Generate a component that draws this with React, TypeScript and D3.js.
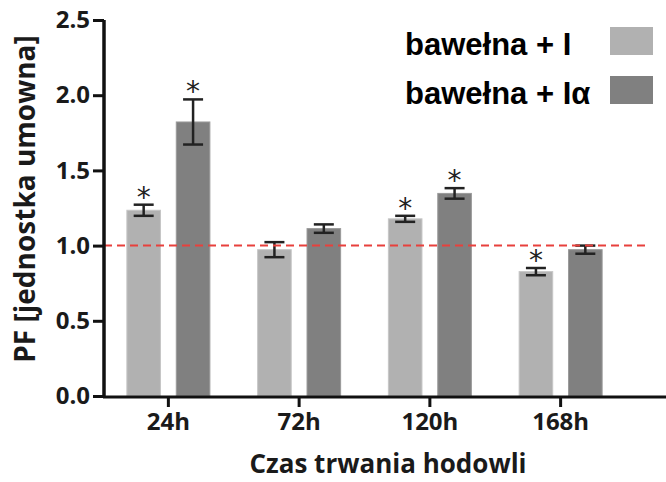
import { useEffect, useRef } from "react";
import * as d3 from "d3";

const groups = ["24h", "72h", "120h", "168h"];
const seriesNames = ["bawełna + I", "bawełna + Iα"];
const valuesI = [1.235, 0.973, 1.178, 0.827];
const valuesIa = [1.822, 1.113, 1.347, 0.973];
const errI = [0.037, 0.05, 0.02, 0.024];
const errIa = [0.15, 0.028, 0.035, 0.027];
const sigI = [true, false, true, true];
const sigIa = [true, false, true, false];
const yTicks = [0, 0.5, 1.0, 1.5, 2.0, 2.5];

const colors = ["#b1b1b1", "#808080"];
const edges = ["#c6c6c6", "#9a9a9a"];

const App = () => {
	const svgRef = useRef<SVGSVGElement>(null);

	useEffect(() => {
		if (!svgRef.current) return;
		const width = 666;
		const height = 482;
		const svg = d3.select(svgRef.current).attr("width", width).attr("height", height);
		svg.selectAll("*").remove();

		const axisFont = "'Open Sans', sans-serif";

		// scales
		const y = d3.scaleLinear().domain([0, 2.5]).range([396, 20]);
		const x0 = d3.scaleBand().domain(groups).range([103, 626]).padding(0);
		const x1 = d3.scaleBand().domain(seriesNames).range([-41.5, 41.5]).paddingInner(0.32);

		const rows = groups.map((g, i) => ({
			group: g,
			bars: [
				{ s: seriesNames[0], v: valuesI[i], e: errI[i], sig: sigI[i], k: 0 },
				{ s: seriesNames[1], v: valuesIa[i], e: errIa[i], sig: sigIa[i], k: 1 },
			],
		}));

		// bars
		const gGroup = svg
			.selectAll(".grp")
			.data(rows)
			.enter()
			.append("g")
			.attr("transform", (d) => `translate(${x0(d.group)! + x0.bandwidth() / 2},0)`);

		gGroup
			.selectAll("rect")
			.data((d) => d.bars)
			.enter()
			.append("rect")
			.attr("x", (d) => x1(d.s)!)
			.attr("width", x1.bandwidth())
			.attr("y", (d) => y(d.v))
			.attr("height", (d) => y(0) - y(d.v))
			.style("fill", (d) => colors[d.k])
			.style("stroke", (d) => edges[d.k])
			.style("stroke-width", 1);

		// error bars
		const eb = gGroup
			.selectAll(".err")
			.data((d) => d.bars)
			.enter()
			.append("g")
			.attr("transform", (d) => `translate(${x1(d.s)! + x1.bandwidth() / 2},0)`);

		eb.append("line")
			.attr("y1", (d) => y(d.v + d.e))
			.attr("y2", (d) => y(d.v - d.e))
			.style("stroke", "#222")
			.style("stroke-width", 2.5);
		[1, -1].forEach((sgn) => {
			eb.append("line")
				.attr("x1", -10)
				.attr("x2", 10)
				.attr("y1", (d) => y(d.v + sgn * d.e))
				.attr("y2", (d) => y(d.v + sgn * d.e))
				.style("stroke", "#222")
				.style("stroke-width", 2.5);
		});

		// significance marks
		eb.filter((d) => d.sig)
			.append("text")
			.attr("text-anchor", "middle")
			.attr("y", (d) => y(d.v + d.e) + 2)
			.style("font-family", "'DejaVu Sans', sans-serif")
			.style("font-size", "28px")
			.style("fill", "#222")
			.text("*");

		// reference line at 1.0
		svg.append("line")
			.attr("x1", 104)
			.attr("x2", 645)
			.attr("y1", y(1))
			.attr("y2", y(1))
			.style("stroke", "#e8403c")
			.style("stroke-width", 2)
			.style("stroke-dasharray", "8,5");

		// y axis
		const yAxis = svg.append("g").attr("transform", "translate(104,0)").call(
			d3
				.axisLeft(y)
				.tickValues(yTicks)
				.tickFormat(d3.format(".1f"))
				.tickSize(11)
				.tickPadding(3)
		);
		yAxis.select(".domain").attr("d", `M0,${y(2.5)}V${y(0) + 1.5}`);
		yAxis.selectAll("line").style("stroke", "#111").style("stroke-width", 3);
		yAxis.select(".domain").style("stroke", "#111").style("stroke-width", 3.5);
		yAxis
			.selectAll("text")
			.style("font-family", axisFont)
			.style("font-weight", 700)
			.style("font-size", "24px")
			.style("fill", "#1a1a1a");

		// x axis
		const xAxis = svg.append("g").attr("transform", `translate(0,${y(0) + 1})`).call(
			d3.axisBottom(x0).tickSize(10).tickPadding(6)
		);
		xAxis.select(".domain").attr("d", `M103,0H666`);
		xAxis.selectAll("line").style("stroke", "#111").style("stroke-width", 3);
		xAxis.select(".domain").style("stroke", "#111").style("stroke-width", 3);
		xAxis
			.selectAll("text")
			.style("font-family", axisFont)
			.style("font-weight", 700)
			.style("font-size", "24px")
			.style("fill", "#1a1a1a");

		// axis titles
		svg.append("text")
			.attr("x", 388)
			.attr("y", 473)
			.attr("text-anchor", "middle")
			.style("font-family", axisFont)
			.style("font-weight", 700)
			.style("font-size", "26px")
			.style("fill", "#1a1a1a")
			.text("Czas trwania hodowli");

		svg.append("text")
			.attr("transform", "translate(35,199) rotate(-90)")
			.attr("text-anchor", "middle")
			.style("font-family", axisFont)
			.style("font-weight", 700)
			.style("font-size", "28px")
			.style("fill", "#1a1a1a")
			.text("PF [jednostka umowna]");

		// legend
		const leg = svg
			.selectAll(".leg")
			.data(seriesNames)
			.enter()
			.append("g")
			.attr("transform", (_d, i) => `translate(0,${i * 49})`);
		leg.append("text")
			.attr("x", 405)
			.attr("y", 55)
			.style("font-family", "'Liberation Sans', Arial, sans-serif")
			.style("font-weight", 700)
			.style("font-size", "31px")
			.style("fill", "#000")
			.text((d) => d);
		leg.append("rect")
			.attr("x", 610)
			.attr("y", 27)
			.attr("width", 43)
			.attr("height", 28)
			.style("fill", (_d, i) => colors[i]);
	}, []);

	return <svg ref={svgRef} style={{ position: "absolute", left: 0, top: 0, background: "#fff" }} />;
};

export default App;
